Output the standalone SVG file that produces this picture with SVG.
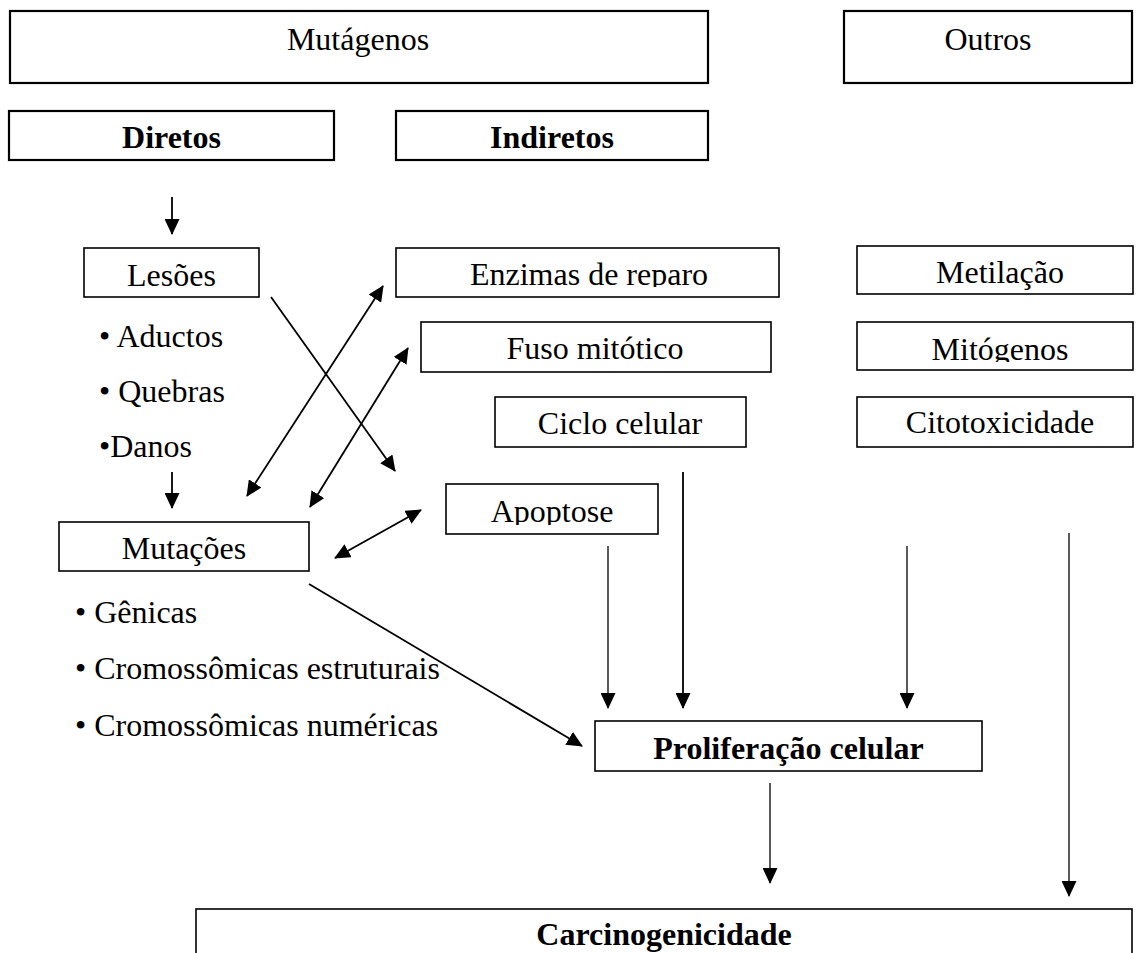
<svg xmlns="http://www.w3.org/2000/svg" width="1136" height="953" viewBox="0 0 1136 953">
<style>
.box{fill:#fff;stroke:#000;stroke-width:1.6}
.tb{stroke-width:2.2}
.t{font-family:"Liberation Serif","Times New Roman",serif;font-size:32px;fill:#000}
.c{text-anchor:middle}
.b{font-weight:bold}
.ln{stroke:#000;stroke-width:1.8;fill:none;marker-end:url(#ah)}
.thin{stroke-width:1.3}
.dbl{marker-start:url(#ah)}
</style>
<defs>
<marker id="ah" viewBox="0 0 16 15" markerWidth="16" markerHeight="15" refX="15" refY="7.5" orient="auto-start-reverse" markerUnits="userSpaceOnUse">
<path d="M0,0 L16,7.5 L0,15 z" fill="#000"/>
</marker>
<clipPath id="cEnz"><rect x="396" y="248" width="383" height="39"/></clipPath>
<clipPath id="cMit"><rect x="857" y="322" width="276" height="40"/></clipPath>
<clipPath id="cApo"><rect x="446" y="484" width="212" height="41"/></clipPath>
</defs>
<rect width="1136" height="953" fill="#fff"/>

<g id="mutagenos"><rect class="box tb" x="10" y="11" width="698" height="72"/><text class="t c" x="358" y="50">Mutágenos</text></g>
<g id="outros"><rect class="box tb" x="844" y="11" width="288" height="72"/><text class="t c" x="988" y="50">Outros</text></g>
<g id="diretos"><rect class="box tb" x="9" y="111" width="325" height="49"/><text class="t c b" x="171.5" y="148">Diretos</text></g>
<g id="indiretos"><rect class="box tb" x="396" y="111" width="312" height="49"/><text class="t c b" x="552" y="148">Indiretos</text></g>

<g id="lesoes"><rect class="box" x="84" y="248" width="175" height="49"/><text class="t c" x="171.5" y="286">Lesões</text></g>
<g id="lesoes-lista">
<text class="t" x="99" y="347">• Aductos</text>
<text class="t" x="99" y="402">• Quebras</text>
<text class="t" x="99" y="457">•Danos</text>
</g>
<g id="enzimas"><rect class="box" x="396" y="248" width="383" height="49"/><text class="t c" x="589" y="285" clip-path="url(#cEnz)">Enzimas de reparo</text></g>
<g id="metilacao"><rect class="box" x="857" y="246" width="276" height="48"/><text class="t c" x="1000" y="283">Metilação</text></g>
<g id="fuso"><rect class="box" x="421" y="322" width="350" height="50"/><text class="t c" x="595" y="359">Fuso mitótico</text></g>
<g id="mitogenos"><rect class="box" x="857" y="322" width="276" height="48"/><text class="t c" x="1000" y="360" clip-path="url(#cMit)">Mitógenos</text></g>
<g id="ciclo"><rect class="box" x="495" y="397" width="251" height="50"/><text class="t c" x="620" y="434">Ciclo celular</text></g>
<g id="citotoxicidade"><rect class="box" x="857" y="397" width="276" height="50"/><text class="t c" x="1000" y="433">Citotoxicidade</text></g>
<g id="apoptose"><rect class="box" x="446" y="484" width="212" height="50"/><text class="t c" x="552" y="522" clip-path="url(#cApo)">Apoptose</text></g>
<g id="mutacoes"><rect class="box" x="59" y="522" width="250" height="49"/><text class="t c" x="184" y="559">Mutações</text></g>
<g id="mutacoes-lista">
<text class="t" x="75" y="623">• Gênicas</text>
<text class="t" x="75" y="679">• Cromossômicas estruturais</text>
<text class="t" x="75" y="736">• Cromossômicas numéricas</text>
</g>
<g id="proliferacao"><rect class="box" x="595" y="721" width="387" height="50"/><text class="t c b" x="788.5" y="759">Proliferação celular</text></g>
<g id="carcinogenicidade"><rect class="box" x="196" y="909" width="936" height="60"/><text class="t c b" x="664" y="945">Carcinogenicidade</text></g>

<g id="connectors">
<line class="ln" x1="172" y1="197" x2="172" y2="234"/>
<line class="ln" x1="172" y1="472" x2="172" y2="508"/>
<line class="ln" x1="271" y1="297" x2="395" y2="471"/>
<line class="ln dbl" x1="247" y1="496" x2="383" y2="286"/>
<line class="ln dbl" x1="310" y1="507" x2="408" y2="348"/>
<line class="ln dbl" x1="335" y1="558" x2="421" y2="510"/>
<line class="ln" x1="309" y1="584" x2="582" y2="746"/>
<line class="ln thin" x1="608" y1="546" x2="608" y2="708"/>
<line class="ln" x1="683" y1="472" x2="683" y2="708"/>
<line class="ln thin" x1="907" y1="546" x2="907" y2="708"/>
<line class="ln thin" x1="770" y1="783" x2="770" y2="883"/>
<line class="ln thin" x1="1069" y1="533" x2="1069" y2="896"/>
</g>
</svg>
